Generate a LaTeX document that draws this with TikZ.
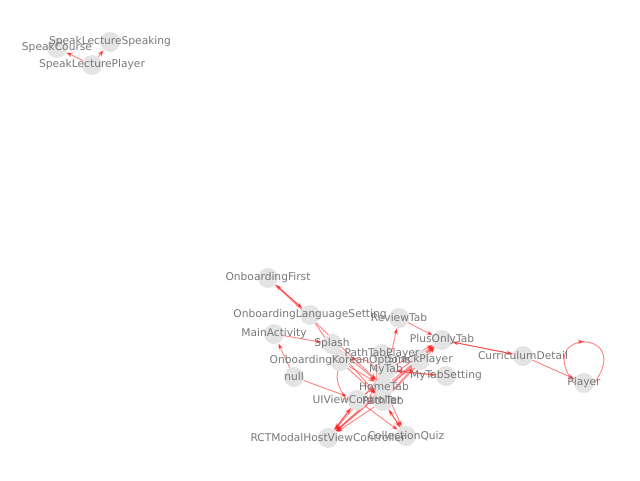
\documentclass[tikz,border=0pt]{standalone}
\usepackage{fontspec}
\setsansfont{DejaVu Sans}
\usetikzlibrary{arrows.meta,backgrounds,decorations.markings}
\definecolor{nodegray}{HTML}{E4E4E4}
\definecolor{labgray}{HTML}{777777}
\definecolor{edgered}{HTML}{FF2020}

\begin{document}
\begin{tikzpicture}[x=0.75pt,y=-0.75pt,font=\sffamily\fontsize{8}{9}\selectfont,
  vtx/.style={circle,fill=nodegray,draw=none,minimum size=15pt,inner sep=0pt},
  lbl/.style={text=labgray,inner sep=0pt},
  ar/.style={-{Stealth[length=5pt,width=3.5pt]},draw=edgered,draw opacity=0.55,line width=0.7pt},
  selfloop/.style={draw=edgered,draw opacity=0.55,line width=0.7pt,
    decoration={markings,mark=at position 0.5 with {\arrow{Stealth[length=5pt,width=3.5pt]}}},
    postaction={decorate}}]
\useasboundingbox (0,0) rectangle (640,480);

% upper left group
\node[vtx,label={[lbl]center:SpeakCourse}] (SpeakCourse) at (57,48) {};
\node[vtx,label={[lbl]center:SpeakLectureSpeaking}] (SpeakLectureSpeaking) at (110,42) {};
\node[vtx,label={[lbl]center:SpeakLecturePlayer}] (SpeakLecturePlayer) at (92,65) {};

% main group
\node[vtx] (OnboardingFirst) at (268,278) {};
\node[vtx] (OnboardingLanguageSetting) at (310,315) {};
\node[vtx] (ReviewTab) at (399,318) {};
\node[vtx] (MainActivity) at (274,334) {};
\node[vtx] (Splash) at (332,344) {};
\node[vtx] (PlusOnlyTab) at (442,340) {};
\node[vtx] (CurriculumDetail) at (523,356) {};
\node[vtx] (Player) at (584,383) {};
\node[vtx] (OnboardingKoreanOptions) at (340,361) {};
\node[vtx] (PathTabPlayer) at (382,354) {};
\node[vtx] (SnackPlayer) at (420,360) {};
\node[vtx] (MyTab) at (386,370) {};
\node[vtx] (MyTabSetting) at (446,376) {};
\node[vtx] (null) at (294,377) {};
\node[vtx] (HomeTab) at (384,387) {};
\node[vtx] (UIViewController) at (357,400) {};
\node[vtx] (PathTab) at (383,401) {};
\node[vtx] (RCTModalHostViewController) at (328,438) {};
\node[vtx] (CollectionQuiz) at (406,436) {};

\begin{scope}[on background layer]
\draw[ar] (SpeakLecturePlayer) -- (SpeakCourse);
\draw[ar] (SpeakLecturePlayer) -- (SpeakLectureSpeaking);

\draw[ar] (OnboardingLanguageSetting) -- (OnboardingFirst);
\draw[ar] (OnboardingFirst) -- (OnboardingLanguageSetting);
\draw[ar] (OnboardingFirst) -- (HomeTab);
\draw[ar] (OnboardingLanguageSetting) -- (OnboardingKoreanOptions);
\draw[ar] (null) -- (MainActivity);
\draw[ar] (null) -- (UIViewController);
\draw[ar] (MainActivity) -- (Splash);
\draw[ar] (Splash) -- (HomeTab);
\draw[ar] (Splash) -- (PathTab);
\draw[ar] (OnboardingKoreanOptions) -- (HomeTab);
\draw[ar] (OnboardingKoreanOptions) -- (PathTab);
\draw[ar] (HomeTab) -- (ReviewTab);
\draw[ar] (ReviewTab) -- (PlusOnlyTab);
\draw[ar] (HomeTab) -- (PlusOnlyTab);
\draw[ar] (PathTab) -- (PlusOnlyTab);
\draw[ar] (MyTab) -- (PlusOnlyTab);
\draw[ar] (UIViewController) -- (PlusOnlyTab);
\draw[ar] (PlusOnlyTab) -- (CurriculumDetail);
\draw[ar] (CurriculumDetail) -- (PlusOnlyTab);
\draw[ar] (CurriculumDetail) -- (Player);
\draw[ar] (MyTab) -- (MyTabSetting);
\draw[ar] (MyTabSetting) -- (MyTab);
\draw[ar] (PathTab) -- (SnackPlayer);
\draw[ar] (HomeTab) -- (PathTabPlayer);
\draw[ar] (UIViewController) -- (RCTModalHostViewController);
\draw[ar] (HomeTab) -- (RCTModalHostViewController);
\draw[ar] (PathTab) -- (RCTModalHostViewController);
\draw[ar] (MyTab) -- (RCTModalHostViewController);
\draw[ar] (PlusOnlyTab) -- (RCTModalHostViewController);
\draw[ar] (SnackPlayer) -- (RCTModalHostViewController);
\draw[ar] (RCTModalHostViewController) -- (UIViewController);
\draw[ar] (PathTab) -- (CollectionQuiz);
\draw[ar] (CollectionQuiz) -- (PathTab);
\draw[ar] (UIViewController) -- (CollectionQuiz);
\draw[ar] (HomeTab) -- (CollectionQuiz);
% self loops
\draw[selfloop] (Player.west) .. controls +(-40,-55) and +(40,-55) .. (Player.east);
\draw[selfloop] (UIViewController.west) .. controls +(-40,-55) and +(40,-55) .. (UIViewController.east);
\end{scope}

% labels on top
\foreach \n/\t in {OnboardingFirst/OnboardingFirst,
  OnboardingLanguageSetting/OnboardingLanguageSetting,ReviewTab/ReviewTab,
  MainActivity/MainActivity,Splash/Splash,PlusOnlyTab/PlusOnlyTab,
  CurriculumDetail/CurriculumDetail,Player/Player,
  OnboardingKoreanOptions/OnboardingKoreanOptions,PathTabPlayer/PathTabPlayer,
  SnackPlayer/SnackPlayer,MyTab/MyTab,MyTabSetting/MyTabSetting,null/null,
  HomeTab/HomeTab,UIViewController/UIViewController,PathTab/PathTab,
  RCTModalHostViewController/RCTModalHostViewController,CollectionQuiz/CollectionQuiz}
  \node[lbl] (\n-l) at (\n) {\t};
\end{tikzpicture}
\end{document}
